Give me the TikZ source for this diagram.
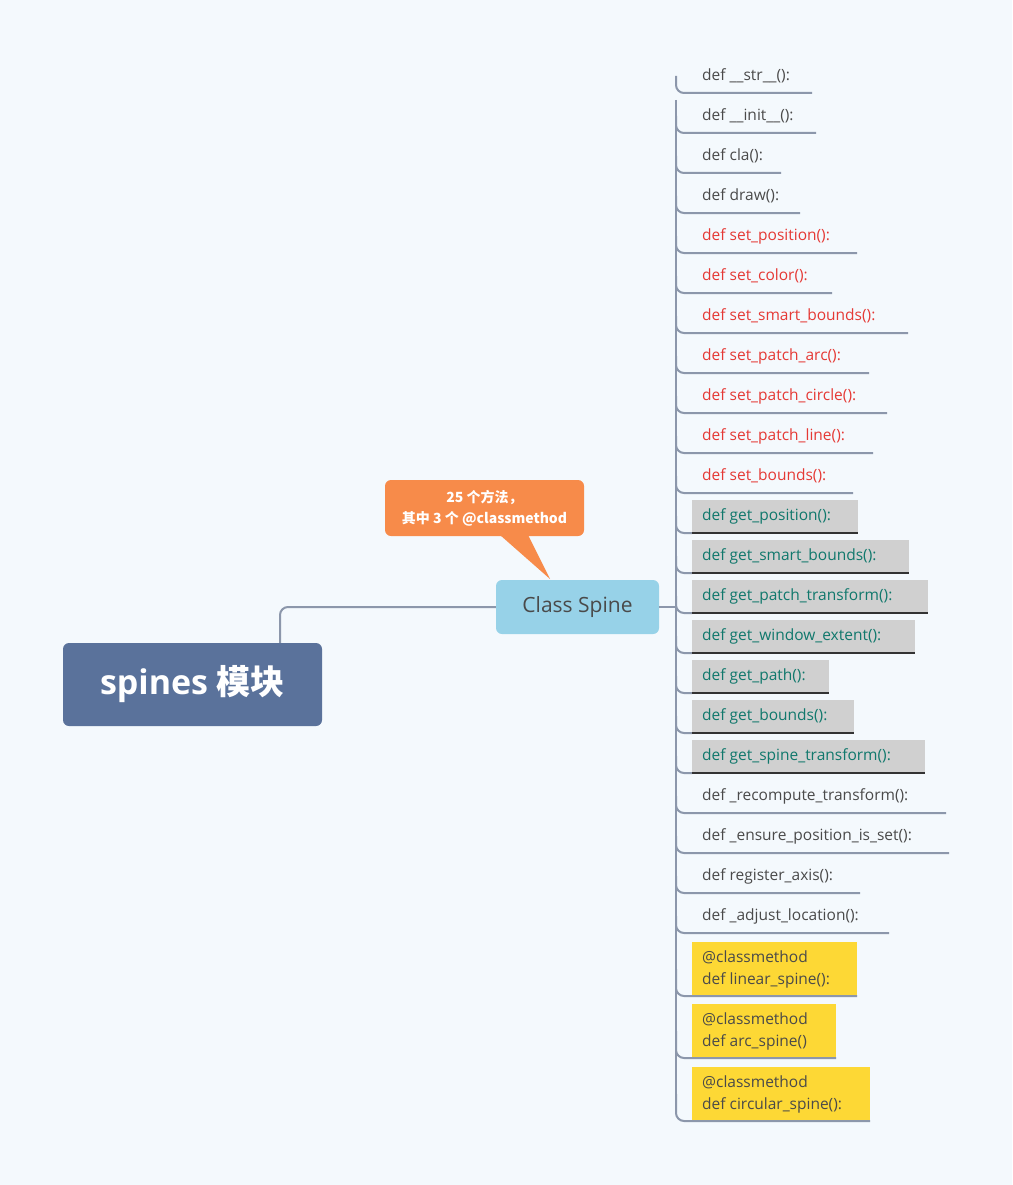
\documentclass[tikz,border=0pt]{standalone}
\usepackage{fontspec}
\setmainfont{Open Sans}
\newfontfamily\cjk{Noto Sans CJK SC}
\begin{document}
\begin{tikzpicture}[x=1pt,y=-1pt,
  conn/.style={draw=lnc,line width=2pt,rounded corners=8pt},
  item/.style={font=\fontsize{15.5}{18}\selectfont,inner sep=0pt,anchor=west},
  two/.style={item,align=left,font=\fontsize{15.5}{22}\selectfont}]
\definecolor{bg}{HTML}{F4F9FD}
\definecolor{lnc}{HTML}{8C97AB}
\definecolor{txt}{HTML}{4A4A4A}
\definecolor{red}{HTML}{E53935}
\definecolor{teal}{HTML}{10786C}
\definecolor{gbox}{HTML}{D0D0D0}
\definecolor{ybox}{HTML}{FDD835}
\definecolor{rootc}{HTML}{5A729B}
\definecolor{csc}{HTML}{97D2E8}
\definecolor{orc}{HTML}{F78B4A}
\fill[bg] (0,0) rectangle (1012,1185);
\useasboundingbox (0,0) rectangle (1012,1185);
% trunk
\draw[draw=lnc,line width=2pt] (676,100) -- (676,1112);
% root & class
\node[fill=rootc,rounded corners=6pt,minimum width=259pt,minimum height=83pt,text=white,font=\fontsize{34}{40}\selectfont\bfseries] (root) at (192.5,684.5) {spines {\cjk\bfseries 模块}};
\node[fill=csc,rounded corners=6pt,minimum width=163pt,minimum height=54pt,text=txt,font=\fontsize{21}{26}\selectfont] (cs) at (577.5,607) {Class Spine};
\draw[conn] (root.north -| 280,0) |- (cs.west);
\draw[draw=lnc,line width=2pt] (cs.east) -- (676,607);
% callout
\fill[orc] (500,535) -- (550,579) -- (528,535) -- cycle;
\node[fill=orc,rounded corners=6pt,minimum width=199pt,minimum height=56pt,text=white,align=center,font=\cjk\bfseries\fontsize{14}{21}\selectfont] (call) at (484.5,508) {25 个方法，\\其中 3 个 @classmethod};
% plain items
\foreach \y/\e/\t/\c in {76/812/def \_\_str\_\_():/txt,116/816/def \_\_init\_\_():/txt,156/781/def cla():/txt,196/800/def draw():/txt,
 236/857/def set\_position():/red,276/832/def set\_color():/red,316/908/def set\_smart\_bounds():/red,356/869/def set\_patch\_arc():/red,
 396/887/def set\_patch\_circle():/red,436/873/def set\_patch\_line():/red,476/853/def set\_bounds():/red,
 796/946/def \_recompute\_transform():/txt,836/949/def \_ensure\_position\_is\_set():/txt,876/860/def register\_axis():/txt,916/889/def \_adjust\_location():/txt}{
 \node[item,text=\c] (n\y) at (702,\y) {\t};
 \coordinate (u\y) at (\e,\y+17);
 \draw[conn] (676,\y) |- (u\y);
}
% gray items
\foreach \y/\e/\t in {516/858/def get\_position():,556/909/def get\_smart\_bounds():,596/928/def get\_patch\_transform():,636/915/def get\_window\_extent():,676/829/def get\_path():,716/854/def get\_bounds():,756/925/def get\_spine\_transform():}{
 \fill[gbox] (692,\y-16) rectangle (\e,\y+16);
 \node[item,text=teal] (n\y) at (702,\y) {\t};
 \coordinate (u\y) at (692,\y+17);
 \draw[conn] (676,\y) |- (u\y);
 \draw[line width=2.5pt,draw=black!80] (u\y) -- (\e,\y+17);
}
% yellow items
\foreach \y/\e/\t in {969/857/def linear\_spine():,1031/836/def arc\_spine(),1094/870/def circular\_spine():}{
 \fill[ybox] (692,\y-27) rectangle (\e,\y+27);
 \node[two,text=txt] (n\y) at (702,\y) {@classmethod\\\t};
 \coordinate (u\y) at (\e,\y+27);
 \draw[conn] (676,\y) |- (u\y);
}
\end{tikzpicture}
\end{document}
